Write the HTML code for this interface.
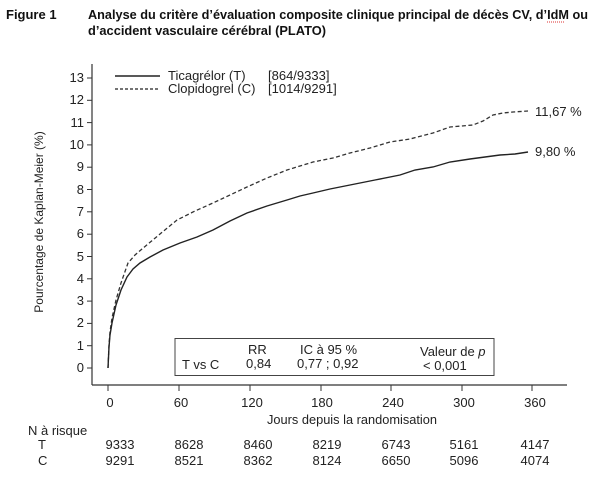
<!DOCTYPE html>
<html><head><meta charset="utf-8"><style>
body{margin:0;background:#fff;}
svg{display:block;font-family:"Liberation Sans",Arial,sans-serif;}
</style></head><body>
<svg width="605" height="479" viewBox="0 0 605 479" xmlns="http://www.w3.org/2000/svg">
<g font-weight="bold" font-size="13" fill="#111">
<text x="6" y="19">Figure 1</text>
<text x="88" y="19" textLength="500" lengthAdjust="spacingAndGlyphs">Analyse du critère d’évaluation composite clinique principal de décès CV, d’IdM ou</text>
<text x="88" y="35" textLength="238" lengthAdjust="spacingAndGlyphs">d’accident vasculaire cérébral (PLATO)</text>
</g>
<line x1="547" y1="22" x2="565" y2="22" stroke="#d33" stroke-width="1" stroke-dasharray="1,1"/>
<g stroke="#333" stroke-width="1.2" fill="none">
<line x1="92" y1="64" x2="92" y2="385"/>
<line x1="92" y1="385" x2="567" y2="385"/>
</g>
<g stroke="#333" stroke-width="1">
<line x1="87" y1="78" x2="92" y2="78"/><line x1="87" y1="100.3" x2="92" y2="100.3"/><line x1="87" y1="122.6" x2="92" y2="122.6"/><line x1="87" y1="144.9" x2="92" y2="144.9"/><line x1="87" y1="167.2" x2="92" y2="167.2"/><line x1="87" y1="189.5" x2="92" y2="189.5"/><line x1="87" y1="211.8" x2="92" y2="211.8"/><line x1="87" y1="234.2" x2="92" y2="234.2"/><line x1="87" y1="256.5" x2="92" y2="256.5"/><line x1="87" y1="278.8" x2="92" y2="278.8"/><line x1="87" y1="301.1" x2="92" y2="301.1"/><line x1="87" y1="323.4" x2="92" y2="323.4"/><line x1="87" y1="345.7" x2="92" y2="345.7"/><line x1="87" y1="368" x2="92" y2="368"/>
<line x1="108" y1="385" x2="108" y2="391"/><line x1="179" y1="385" x2="179" y2="391"/><line x1="250" y1="385" x2="250" y2="391"/><line x1="321" y1="385" x2="321" y2="391"/><line x1="391" y1="385" x2="391" y2="391"/><line x1="462" y1="385" x2="462" y2="391"/><line x1="532" y1="385" x2="532" y2="391"/>
</g>
<g font-size="13" fill="#222" text-anchor="end">
<text x="84" y="82">13</text><text x="84" y="104">12</text><text x="84" y="127">11</text><text x="84" y="149">10</text><text x="84" y="171">9</text><text x="84" y="194">8</text><text x="84" y="216">7</text><text x="84" y="238">6</text><text x="84" y="261">5</text><text x="84" y="283">4</text><text x="84" y="305">3</text><text x="84" y="327">2</text><text x="84" y="350">1</text><text x="84" y="372">0</text>
</g>
<g font-size="13" fill="#222" text-anchor="middle">
<text x="110" y="407">0</text><text x="181" y="407">60</text><text x="252" y="407">120</text><text x="322" y="407">180</text><text x="393" y="407">240</text><text x="464" y="407">300</text><text x="535" y="407">360</text>
<text x="352" y="424" textLength="170" lengthAdjust="spacingAndGlyphs">Jours depuis la randomisation</text>
</g>
<text transform="translate(43,222) rotate(-90)" font-size="12" fill="#222" text-anchor="middle">Pourcentage de Kaplan-Meier (%)</text>
<line x1="115" y1="76" x2="160" y2="76" stroke="#222" stroke-width="1.5"/>
<line x1="115" y1="89" x2="160" y2="89" stroke="#222" stroke-width="1.2" stroke-dasharray="3,2"/>
<g font-size="13" fill="#222">
<text x="168" y="80">Ticagrélor  (T)</text><text x="268" y="80">[864/9333]</text>
<text x="168" y="93">Clopidogrel (C)</text><text x="268" y="93">[1014/9291]</text>
<text x="535" y="116">11,67 %</text><text x="535" y="156">9,80 %</text>
</g>
<polyline fill="none" stroke="#333" stroke-width="1.3" stroke-dasharray="4,2.5" points="108,368 109,345 110,332 112,318 116,300 121,283 128,263 135,255 142,249 160,234 177,220 195,211 213,203 230,195 247,187 267,178 287,170 300,166 313,162 333,158 350,153 370,148 390,142 410,139 433,133 450,127 473,125 483,121 493,115 503,113 513,112 528,111"/>
<polyline fill="none" stroke="#222" stroke-width="1.4" points="108,368 109,347 110,335 112,323 116,305 121,290 127,277 133,269 140,263 150,257 163,250 180,243 197,237 213,230 230,221 247,213 267,206 287,200 300,196 313,193 330,189 350,185 375,180 400,175 415,170 433,167 450,162 470,159 485,157 500,155 515,154 528,152"/>
<rect x="175" y="338.5" width="319" height="37" fill="#fff" stroke="#444" stroke-width="1"/>
<g font-size="13" fill="#222">
<text x="182" y="369">T vs C</text>
<text x="248" y="354">RR</text><text x="246" y="368">0,84</text>
<text x="300" y="354">IC à 95 %</text><text x="297" y="368">0,77 ; 0,92</text>
<text x="420" y="356">Valeur de <tspan font-style="italic">p</tspan></text><text x="423" y="370">&lt; 0,001</text>
</g>
<g font-size="13" fill="#222">
<text x="28" y="435">N à risque</text>
<text x="38" y="449">T</text><text x="38" y="465">C</text>
</g>
<g font-size="13" fill="#222" text-anchor="middle">
<text x="120" y="449">9333</text><text x="189" y="449">8628</text><text x="258" y="449">8460</text><text x="327" y="449">8219</text><text x="396" y="449">6743</text><text x="464" y="449">5161</text><text x="535" y="449">4147</text>
<text x="120" y="465">9291</text><text x="189" y="465">8521</text><text x="258" y="465">8362</text><text x="327" y="465">8124</text><text x="396" y="465">6650</text><text x="464" y="465">5096</text><text x="535" y="465">4074</text>
</g>
</svg>
</body></html>
